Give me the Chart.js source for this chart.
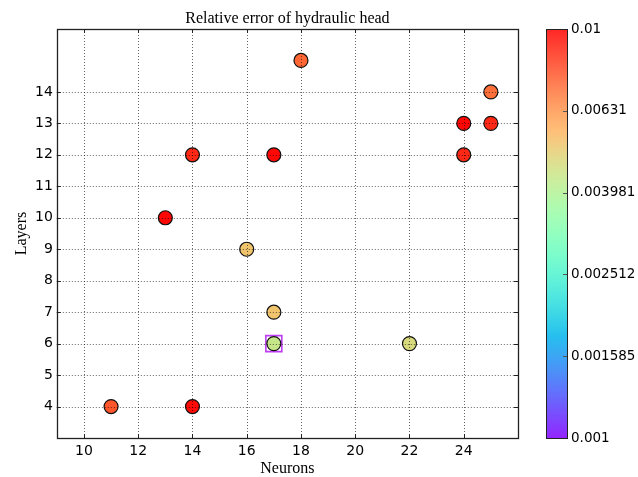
<!DOCTYPE html>
<html>
<head>
<meta charset="utf-8">
<title>Relative error of hydraulic head</title>
<script src="https://cdn.jsdelivr.net/npm/chart.js@4.4.0/dist/chart.umd.min.js"></script>
<style>
    html, body { margin: 0; padding: 0; background: #fff; }
</style>
</head>
<body>
<canvas id="myChart" width="638" height="477"></canvas>
<script>
// network size of each run and its relative error
var neurons = [18, 25, 24, 25, 24, 14, 17, 13, 16, 17, 17, 22, 11, 14];
var layers = [15, 14, 13, 13, 12, 12, 12, 10, 9, 7, 6, 6, 4, 4];
var errors = [0.0074, 0.0072, 0.0098, 0.0089, 0.0089, 0.0089, 0.0098, 0.0098, 0.00525, 0.00525, 0.00435, 0.00473, 0.0078, 0.0097];

// best run, boxed
var bestNeurons = [17];
var bestLayers = [6];

var xTicks = [10, 12, 14, 16, 18, 20, 22, 24];
var yTicks = [4, 5, 6, 7, 8, 9, 10, 11, 12, 13, 14];
var cbarTicks = [0.001, 0.001585, 0.002512, 0.003981, 0.00631, 0.01];
var cbarLabels = ['0.001', '0.001585', '0.002512', '0.003981', '0.00631', '0.01'];
var errMin = 0.001;
var errMax = 0.01;

var tickFont = { family: 'DejaVu Sans', size: 14, lineHeight: 1 };
var cbarFont = { family: 'DejaVu Sans', size: 13.5, lineHeight: 1 };
var labelFont = { family: 'Liberation Serif', size: 16, lineHeight: 1 };

// matplotlib "rainbow" colormap
function rainbow(t, a) {
    t = Math.max(0, Math.min(1, t));
    var r = Math.min(1, Math.abs(2 * t - 0.5));
    var g = Math.sin(Math.PI * t);
    var b = Math.cos(Math.PI * t / 2);
    return 'rgba(' + Math.round(r * 255) + ',' + Math.round(g * 255) + ',' + Math.round(b * 255) + ',' + a + ')';
}

function logPos(v) {
    return Math.log10(v / errMin) / Math.log10(errMax / errMin);
}

function fixedTicks(list) {
    return function (axis) {
        axis.ticks = list.map(function (v) { return { value: v }; });
    };
}

var points = [];
var colors = [];
for (var i = 0; i < neurons.length; i++) {
    points.push({ x: neurons[i], y: layers[i] });
    colors.push(rainbow(logPos(errors[i]), 1));
}

var best = [];
for (var j = 0; j < bestNeurons.length; j++) {
    best.push({ x: bestNeurons[j], y: bestLayers[j] });
}

// dotted grid, frame and inward ticks on top of the markers
var framePlugin = {
    id: 'frame',
    afterDatasetsDraw: function (chart) {
        var ctx = chart.ctx;
        var a = chart.chartArea;
        var sx = chart.scales.x;
        var sy = chart.scales.y;
        ctx.save();
        ctx.strokeStyle = 'rgba(0,0,0,0.6)';
        ctx.lineWidth = 1;
        ctx.setLineDash([1, 2]);
        ctx.beginPath();
        xTicks.forEach(function (v) {
            var px = Math.round(sx.getPixelForValue(v)) + 0.5;
            ctx.moveTo(px, a.top);
            ctx.lineTo(px, a.bottom);
        });
        yTicks.forEach(function (v) {
            var py = Math.round(sy.getPixelForValue(v)) + 0.5;
            ctx.moveTo(a.left, py);
            ctx.lineTo(a.right, py);
        });
        ctx.stroke();

        ctx.setLineDash([]);
        ctx.strokeStyle = '#222';
        ctx.beginPath();
        xTicks.forEach(function (v) {
            var px = Math.round(sx.getPixelForValue(v)) + 0.5;
            ctx.moveTo(px, a.bottom);
            ctx.lineTo(px, a.bottom - 4);
            ctx.moveTo(px, a.top);
            ctx.lineTo(px, a.top + 4);
        });
        yTicks.forEach(function (v) {
            var py = Math.round(sy.getPixelForValue(v)) + 0.5;
            ctx.moveTo(a.left, py);
            ctx.lineTo(a.left + 4, py);
            ctx.moveTo(a.right, py);
            ctx.lineTo(a.right - 4, py);
        });
        ctx.stroke();
        ctx.lineWidth = 1.3;
        ctx.strokeRect(Math.round(a.left) + 0.5, Math.round(a.top) + 0.5, Math.round(a.right - a.left), Math.round(a.bottom - a.top));
        ctx.restore();
    }
};

// colour bar next to the right axis
var colorbarPlugin = {
    id: 'colorbar',
    afterDraw: function (chart) {
        var ctx = chart.ctx;
        var c = chart.scales.c;
        var x0 = Math.round(chart.chartArea.right) + 28;
        var w = 21;
        var top = Math.round(c.top);
        var bottom = Math.round(c.bottom);
        ctx.save();
        for (var py = top; py < bottom; py++) {
            var v = c.getValueForPixel(py + 0.5);
            ctx.fillStyle = rainbow(logPos(v), 0.85);
            ctx.fillRect(x0, py, w, 1);
        }
        ctx.strokeStyle = '#555';
        ctx.lineWidth = 1;
        ctx.beginPath();
        cbarTicks.forEach(function (v) {
            var py = Math.round(c.getPixelForValue(v)) + 0.5;
            ctx.moveTo(x0 + w, py);
            ctx.lineTo(x0 + w - 4, py);
        });
        ctx.stroke();
        ctx.strokeStyle = '#222';
        ctx.strokeRect(x0 + 0.5, top + 0.5, w, bottom - top);
        ctx.restore();
    }
};

var config = {
    type: 'scatter',
    data: {
        datasets: [{
            label: 'runs',
            data: points,
            backgroundColor: colors,
            borderColor: '#111',
            borderWidth: 1.2,
            pointRadius: 7,
            pointHoverRadius: 7
        }, {
            label: 'best',
            data: best,
            pointStyle: 'rect',
            backgroundColor: 'rgba(0,0,0,0)',
            borderColor: '#bf3cf5',
            borderWidth: 1.6,
            pointRadius: 11.3,
            pointHoverRadius: 11.3
        }]
    },
    options: {
        responsive: false,
        animation: false,
        layout: { padding: { left: 6, right: 0, top: 0, bottom: 0.5 } },
        plugins: {
            legend: { display: false },
            tooltip: { enabled: false }
        },
        scales: {
            x: {
                type: 'linear',
                position: 'bottom',
                min: 9,
                max: 26,
                afterBuildTicks: fixedTicks(xTicks),
                afterFit: function (scale) {
                    scale.height = 38.5;
                },
                grid: { display: false, drawTicks: false },
                border: { display: false },
                ticks: { color: '#000', font: tickFont, padding: 6.5, maxRotation: 0, autoSkip: false },
                title: { display: true, text: 'Neurons', color: '#000', font: labelFont, padding: { top: 0, bottom: -0.5 } }
            },
            xTop: {
                type: 'linear',
                position: 'top',
                min: 9,
                max: 26,
                grid: { display: false, drawTicks: false },
                border: { display: false },
                ticks: { display: false },
                title: { display: true, text: 'Relative error of hydraulic head', color: '#000', font: labelFont, padding: { top: 11, bottom: 2 } }
            },
            y: {
                type: 'linear',
                position: 'left',
                min: 3,
                max: 16,
                afterBuildTicks: fixedTicks(yTicks),
                grid: { display: false, drawTicks: false },
                border: { display: false },
                ticks: { color: '#000', font: tickFont, padding: 4, autoSkip: false },
                title: { display: true, text: 'Layers', color: '#000', font: labelFont, padding: { top: 8, bottom: 1 } }
            },
            c: {
                type: 'logarithmic',
                position: 'right',
                min: errMin,
                max: errMax,
                afterBuildTicks: fixedTicks(cbarTicks),
                // room for the bar between plot and labels, no extra space above and below
                afterFit: function (scale) {
                    scale.width = 120;
                    scale.paddingTop = 0;
                    scale.paddingBottom = 0;
                },
                grid: { display: false, drawTicks: false },
                border: { display: false },
                ticks: {
                    color: '#000',
                    font: cbarFont,
                    padding: 53,
                    autoSkip: false,
                    callback: function (value, index) { return cbarLabels[index]; }
                }
            }
        }
    },
    plugins: [framePlugin, colorbarPlugin]
};

var chart = new Chart(document.getElementById('myChart'), config);
</script>
</body>
</html>
